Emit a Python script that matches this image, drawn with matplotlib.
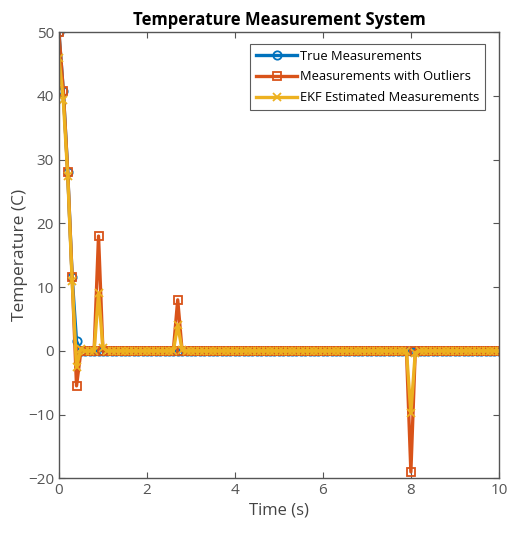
import numpy as np
import matplotlib
matplotlib.use("Agg")
import matplotlib.pyplot as plt

plt.rcParams['font.family'] = ['Open Sans', 'DejaVu Sans']

time = np.linspace(0, 10, 101)

true_meas = [50.0, 40.7, 28.0, 11.6, 1.5] + [0.0] * 96

outlier_meas = list(true_meas)
outlier_meas[4] = -5.5
outlier_meas[9] = 18.0
outlier_meas[27] = 8.0
outlier_meas[80] = -19.0

ekf_est = [46.0, 39.3, 27.5, 11.0, -2.5, 0.3, 0.0, 0.0, 0.0, 9.0, 0.5] + [0.0] * 90
ekf_est[27] = 4.0
ekf_est[28] = 0.2
ekf_est[80] = -9.8
ekf_est[81] = -0.3

labels = ['True Measurements', 'Measurements with Outliers', 'EKF Estimated Measurements']
colors = [(0, 0.447, 0.741), (0.850, 0.325, 0.098), (0.929, 0.694, 0.125)]
markers = ['o', 's', 'x']

fig = plt.figure(figsize=(5.08, 5.35), dpi=100)
ax = fig.add_axes([0.116, 0.106, 0.866, 0.834])

for y, lab, c, m in zip([true_meas, outlier_meas, ekf_est], labels, colors, markers):
    ax.plot(time, y, color=c, marker=m, markersize=6, markerfacecolor='none',
            markeredgewidth=1.3, linewidth=2.4, label=lab)

ax.set_xlim(0, 10)
ax.set_ylim(-20, 50)
ax.set_xticks([0, 2, 4, 6, 8, 10])
ax.set_yticks([-20, -10, 0, 10, 20, 30, 40, 50])
ax.tick_params(direction='in', top=True, right=True, colors='#555555',
               labelcolor='#555555', labelsize=11, length=4)
for s in ax.spines.values():
    s.set_color('#555555')
    s.set_linewidth(1.0)
ax.set_xlabel('Time (s)', fontsize=12, color='#444444', labelpad=3)
ax.set_ylabel('Temperature (C)', fontsize=12.5, color='#444444', labelpad=0)
ax.set_title('Temperature Measurement System', fontsize=12, fontweight='bold', pad=5)

leg = ax.legend(loc='upper right', fontsize=9.3, frameon=True, fancybox=False,
                edgecolor='#333333', borderaxespad=0.9, handlelength=3.2,
                handletextpad=0.2, labelspacing=0.6, borderpad=0.45,
                bbox_to_anchor=(0.995, 1.0))
leg.get_frame().set_linewidth(0.8)

fig.savefig('out.png', dpi=100)
